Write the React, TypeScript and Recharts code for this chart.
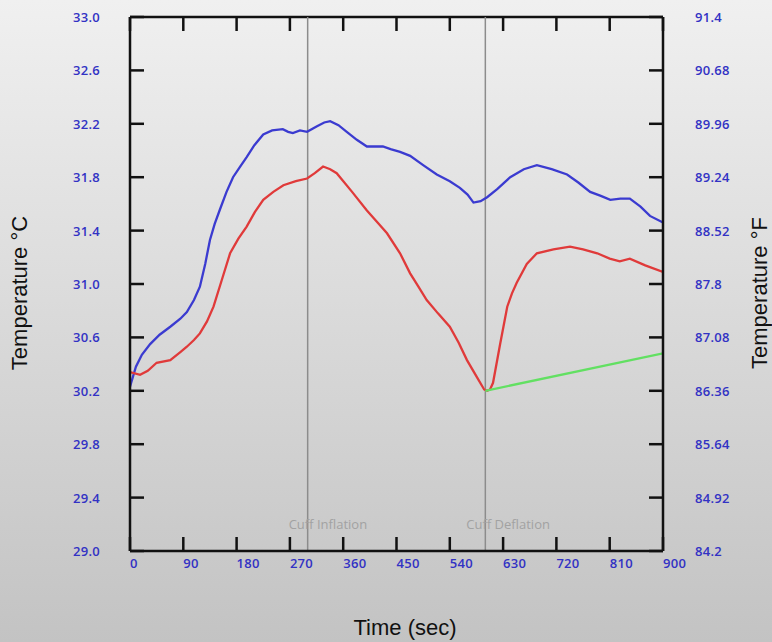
import {
  LineChart,
  Line,
  XAxis,
  YAxis,
  ReferenceLine,
} from "recharts";

// time (s) / temperature (°C)
const blueTime = [0, 10, 20, 34, 50, 68, 85, 96, 108, 118, 127, 135, 143, 152, 163, 174, 186, 197, 210, 225, 240, 258, 267, 275, 287, 299, 315, 328, 338, 352, 366, 383, 400, 415, 427, 440, 456, 473, 495, 518, 540, 557, 570, 580, 592, 603, 620, 642, 665, 687, 712, 738, 757, 777, 795, 811, 828, 844, 862, 878, 900];
const blueTemp = [30.23, 30.38, 30.47, 30.55, 30.62, 30.68, 30.74, 30.79, 30.88, 30.98, 31.15, 31.33, 31.45, 31.56, 31.69, 31.8, 31.88, 31.95, 32.04, 32.12, 32.15, 32.16, 32.14, 32.13, 32.15, 32.14, 32.18, 32.21, 32.22, 32.19, 32.14, 32.08, 32.03, 32.03, 32.03, 32.01, 31.99, 31.96, 31.89, 31.82, 31.77, 31.72, 31.67, 31.61, 31.62, 31.65, 31.71, 31.8, 31.86, 31.89, 31.86, 31.82, 31.76, 31.69, 31.66, 31.63, 31.64, 31.64, 31.58, 31.51, 31.46];

const redTime = [0, 17, 30, 45, 68, 85, 96, 108, 118, 130, 141, 155, 169, 183, 197, 211, 225, 242, 259, 280, 299, 312, 326, 338, 349, 375, 400, 418, 434, 456, 473, 487, 501, 520, 540, 555, 569, 586, 598, 603, 608, 613, 625, 637, 645, 653, 670, 687, 715, 743, 765, 789, 810, 827, 844, 870, 900];
const redTemp = [30.34, 30.32, 30.35, 30.41, 30.43, 30.49, 30.53, 30.58, 30.63, 30.72, 30.83, 31.03, 31.23, 31.34, 31.43, 31.54, 31.63, 31.69, 31.74, 31.77, 31.79, 31.83, 31.88, 31.86, 31.83, 31.69, 31.55, 31.46, 31.38, 31.23, 31.08, 30.98, 30.88, 30.78, 30.68, 30.56, 30.43, 30.3, 30.21, 30.2, 30.21, 30.26, 30.55, 30.83, 30.93, 31.01, 31.15, 31.23, 31.26, 31.28, 31.26, 31.23, 31.19, 31.17, 31.19, 31.14, 31.09];

const greenTime = [600, 900];
const greenTemp = [30.2, 30.48];

const timeTicks = [0, 90, 180, 270, 360, 450, 540, 630, 720, 810, 900];
const celsiusTicks = [29.0, 29.4, 29.8, 30.2, 30.6, 31.0, 31.4, 31.8, 32.2, 32.6, 33.0];
const fahrenheitTicks = [84.2, 84.92, 85.64, 86.36, 87.08, 87.8, 88.52, 89.24, 89.96, 90.68, 91.4];

const events = [
  { t: 300, label: "Cuff Inflation" },
  { t: 600, label: "Cuff Deflation" },
];

const toRows = (ts: number[], vs: number[]) => ts.map((t, i) => ({ t, v: vs[i] }));
const blueData = toRows(blueTime, blueTemp);
const redData = toRows(redTime, redTemp);
const greenData = toRows(greenTime, greenTemp);

const W = 772;
const H = 642;
const PLOT_TOP = 17;
const TICK_LEN = 14;
const TICK_COLOR = "#111";
const LABEL_BLUE = "#3232c4";
const tickFont = {
  fontFamily: "'Open Sans', sans-serif",
  fontSize: 13,
  fontWeight: 600,
  letterSpacing: 0.3,
};

const BottomTick = (props: any) => {
  const { x, y, payload } = props;
  const axisY = y - 12;
  return (
    <g>
      <line x1={x} x2={x} y1={axisY} y2={axisY - TICK_LEN} stroke={TICK_COLOR} strokeWidth={2.5} />
      <line x1={x} x2={x} y1={PLOT_TOP} y2={PLOT_TOP + TICK_LEN} stroke={TICK_COLOR} strokeWidth={2.5} />
      <text x={x} y={y} textAnchor="start" dominantBaseline="central" fill={LABEL_BLUE} style={tickFont}>
        {payload.value}
      </text>
    </g>
  );
};

const LeftTick = (props: any) => {
  const { x, y, payload } = props;
  const axisX = x + 30;
  return (
    <g>
      <line x1={axisX} x2={axisX + TICK_LEN} y1={y} y2={y} stroke={TICK_COLOR} strokeWidth={2.5} />
      <text x={x} y={y} textAnchor="end" dominantBaseline="central" fill={LABEL_BLUE} style={tickFont}>
        {Number(payload.value).toFixed(1)}
      </text>
    </g>
  );
};

const RightTick = (props: any) => {
  const { x, y, payload } = props;
  const axisX = x - 32;
  return (
    <g>
      <line x1={axisX} x2={axisX - TICK_LEN} y1={y} y2={y} stroke={TICK_COLOR} strokeWidth={2.5} />
      <text x={x} y={y} textAnchor="start" dominantBaseline="central" fill={LABEL_BLUE} style={tickFont}>
        {String(payload.value)}
      </text>
    </g>
  );
};

const EventLabel = (text: string) => (props: any) => {
  const { viewBox } = props;
  if (!viewBox) return null;
  return (
    <text
      x={viewBox.x - 19}
      y={viewBox.y + viewBox.height - 27}
      textAnchor="start"
      dominantBaseline="central"
      fill="#a2a2a2"
      style={{ fontFamily: "'Open Sans', sans-serif", fontSize: 13 }}
    >
      {text}
    </text>
  );
};

const titleFont = {
  fontFamily: "'Liberation Sans', Arial, sans-serif",
  fontSize: 22,
  fill: "#111",
};

export default function App(): JSX.Element {
  return (
    <div
      style={{
        position: "absolute",
        left: 0,
        top: 0,
        width: W,
        height: H,
        overflow: "hidden",
        background: "linear-gradient(#f0f0f0, #c3c3c3)",
      }}
    >
      <LineChart width={W} height={H} margin={{ top: PLOT_TOP, right: 0, bottom: 0, left: 0 }}>
        <XAxis
          dataKey="t"
          type="number"
          domain={[0, 900]}
          ticks={timeTicks}
          interval={0}
          height={91}
          tickSize={0}
          tickMargin={12}
          tick={<BottomTick />}
          axisLine={{ stroke: TICK_COLOR, strokeWidth: 2.5 }}
          allowDataOverflow
        />
        <YAxis
          yAxisId="C"
          orientation="left"
          type="number"
          domain={[29, 33]}
          ticks={celsiusTicks}
          interval={0}
          width={130}
          tickSize={0}
          tickMargin={30}
          tick={<LeftTick />}
          axisLine={{ stroke: TICK_COLOR, strokeWidth: 2.5 }}
          allowDataOverflow
        />
        <YAxis
          yAxisId="F"
          orientation="right"
          type="number"
          domain={[84.2, 91.4]}
          ticks={fahrenheitTicks}
          interval={0}
          width={109}
          tickSize={0}
          tickMargin={32}
          tick={<RightTick />}
          axisLine={{ stroke: TICK_COLOR, strokeWidth: 2.5 }}
          allowDataOverflow
        />
        <ReferenceLine yAxisId="C" y={33} stroke={TICK_COLOR} strokeWidth={2.5} />
        {events.map((e) => (
          <ReferenceLine
            key={e.label}
            yAxisId="C"
            x={e.t}
            stroke="#8c8c8c"
            strokeWidth={1.5}
            label={EventLabel(e.label)}
          />
        ))}
        <Line
          yAxisId="C"
          data={blueData}
          dataKey="v"
          type="linear"
          stroke="#3b3bd0"
          strokeWidth={2.3}
          dot={false}
          isAnimationActive={false}
        />
        <Line
          yAxisId="C"
          data={redData}
          dataKey="v"
          type="linear"
          stroke="#e03a3a"
          strokeWidth={2.3}
          dot={false}
          isAnimationActive={false}
        />
        <Line
          yAxisId="C"
          data={greenData}
          dataKey="v"
          type="linear"
          stroke="#62e062"
          strokeWidth={2.3}
          dot={false}
          isAnimationActive={false}
        />
      </LineChart>
      <svg
        width={W}
        height={H}
        style={{ position: "absolute", left: 0, top: 0, pointerEvents: "none" }}
      >
        <text x={19} y={293} transform="rotate(-90 19 293)" textAnchor="middle" dominantBaseline="central" style={titleFont}>
          Temperature °C
        </text>
        <text x={759} y={293} transform="rotate(-90 759 293)" textAnchor="middle" dominantBaseline="central" style={titleFont}>
          Temperature °F
        </text>
        <text x={405} y={627} textAnchor="middle" dominantBaseline="central" style={titleFont}>
          Time (sec)
        </text>
      </svg>
    </div>
  );
}
